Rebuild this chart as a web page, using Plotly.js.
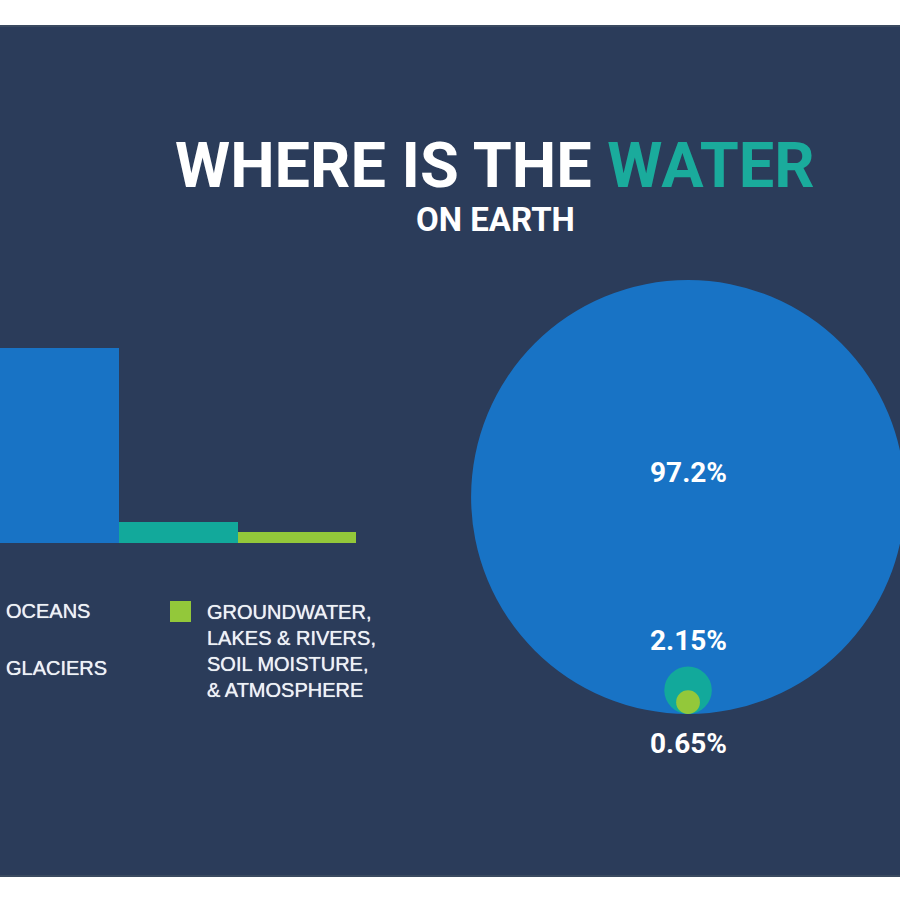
<!DOCTYPE html>
<html>
<head>
<meta charset="utf-8">
<script src="https://cdn.plot.ly/plotly-3.0.1.min.js"></script>
<style>html,body{margin:0;padding:0;background:#fff;}#chart{width:900px;height:900px;}</style>
</head>
<body>
<div id="chart"></div>
<script>
// ---- data ----
const categories = ['Oceans', 'Glaciers', 'Groundwater, lakes & rivers, soil moisture, & atmosphere'];
const shares = [97.2, 2.15, 0.65];
const valueLabels = ['97.2%', '2.15%', '0.65%'];
const legendLabels = ['OCEANS', 'GLACIERS', 'GROUNDWATER,<br>LAKES & RIVERS,<br>SOIL MOISTURE,<br>& ATMOSPHERE'];
const colors = ['#1873c5', '#12a99b', '#93c83a'];

// ---- styling ----
const BG = '#2b3c5a';
const TEXT = '#eef2f6';
const FONT = 'Roboto, "Open Sans", sans-serif';
const LEGFONT = '"Liberation Sans", Arial, sans-serif';
const LEGSHADOW = '0px 0px 0.7px #eef2f6';
const EXP = 0.58; // non-linear display scale used by the infographic
const scaled = shares.map(v => Math.pow(v, EXP));

const barTrace = {
  type: 'bar',
  x: categories,
  y: scaled,
  customdata: shares,
  marker: {color: colors, line: {width: 0}},
  width: 1,
  hovertemplate: '%{x}: %{customdata}%<extra></extra>',
  xaxis: 'x', yaxis: 'y'
};

// nested circles, bottom aligned, in x2/y2 units
const shapes = [];
shapes.push({type: 'rect', xref: 'paper', yref: 'paper', x0: 0, x1: 1, y0: 0, y1: 1, fillcolor: BG, line: {width: 0}, layer: 'below'});
scaled.forEach((r, i) => {
  shapes.push({type: 'circle', xref: 'x2', yref: 'y2', x0: -r, x1: r, y0: 0, y1: 2 * r,
    fillcolor: colors[i], line: {width: 0}, layer: 'above'});
});
// legend square for the third category
shapes.push({type: 'rect', xref: 'paper', yref: 'paper', x0: 170/900, x1: 191/900, y0: 1 - 622/900, y1: 1 - 601/900,
  fillcolor: colors[2], line: {width: 0}});
// white frame bands
shapes.push({type: 'rect', xref: 'paper', yref: 'paper', x0: 0, x1: 1, y0: 1 - 25/900, y1: 1, fillcolor: '#ffffff', line: {width: 0}, layer: 'above'});
shapes.push({type: 'rect', xref: 'paper', yref: 'paper', x0: 0, x1: 1, y0: 0, y1: 1 - 877/900, fillcolor: '#ffffff', line: {width: 0}, layer: 'above'});
shapes.push({type: 'line', xref: 'paper', yref: 'paper', x0: 0, x1: 1, y0: 1 - 26/900, y1: 1 - 26/900, line: {color: '#3a4a60', width: 2}, layer: 'above'});
shapes.push({type: 'line', xref: 'paper', yref: 'paper', x0: 0, x1: 1, y0: 1 - 876/900, y1: 1 - 876/900, line: {color: '#3a4a60', width: 2}, layer: 'above'});

const annotations = [
  {xref: 'paper', yref: 'paper', x: 495/900, y: 1 - 166/900, xanchor: 'center', yanchor: 'middle', showarrow: false,
   text: 'WHERE IS THE <span style="color:#1aab9c">WATER</span>',
   font: {family: FONT, size: 63, color: '#ffffff', weight: 'bold'}},
  {xref: 'paper', yref: 'paper', x: 495/900, y: 1 - 219/900, xanchor: 'center', yanchor: 'middle', showarrow: false,
   text: 'ON EARTH', font: {family: FONT, size: 33, color: '#ffffff', weight: 'bold'}},
  {xref: 'paper', yref: 'paper', x: 4/900, y: 1 - 611/900, xanchor: 'left', yanchor: 'middle', showarrow: false,
   text: legendLabels[0], font: {family: LEGFONT, size: 20, color: TEXT, shadow: LEGSHADOW}},
  {xref: 'paper', yref: 'paper', x: 4/900, y: 1 - 668/900, xanchor: 'left', yanchor: 'middle', showarrow: false,
   text: legendLabels[1], font: {family: LEGFONT, size: 20, color: TEXT, shadow: LEGSHADOW}},
  {xref: 'paper', yref: 'paper', x: 205/900, y: 1 - 651/900, xanchor: 'left', yanchor: 'middle', align: 'left', showarrow: false,
   text: legendLabels[2], font: {family: LEGFONT, size: 20, color: TEXT, shadow: LEGSHADOW}},
  // circle value labels
  {xref: 'x2', yref: 'y2', x: 0, y: scaled[0], yshift: 25, xanchor: 'center', yanchor: 'middle', showarrow: false,
   text: valueLabels[0], font: {family: FONT, size: 28, color: '#ffffff', weight: 'bold'}},
  {xref: 'x2', yref: 'y2', x: 0, y: 2 * scaled[1], yshift: 7, xanchor: 'center', yanchor: 'bottom', showarrow: false,
   text: valueLabels[1], font: {family: FONT, size: 28, color: '#ffffff', weight: 'bold'}},
  {xref: 'x2', yref: 'y2', x: 0, y: 0, yshift: -11, xanchor: 'center', yanchor: 'top', showarrow: false,
   text: valueLabels[2], font: {family: FONT, size: 28, color: '#ffffff', weight: 'bold'}}
];

const hidden = {visible: false, showgrid: false, zeroline: false, fixedrange: true};

const layout = {
  width: 900, height: 900,
  margin: {l: 0, r: 0, t: 0, b: 0},
  paper_bgcolor: BG,
  plot_bgcolor: 'rgba(0,0,0,0)',
  showlegend: false,
  bargap: 0,
  xaxis: Object.assign({}, hidden, {domain: [0, 0.396], range: [-0.5, 2.5], type: 'category'}),
  yaxis: Object.assign({}, hidden, {domain: [1 - 543/900, 0.6405], range: [0, 16]}),
  xaxis2: Object.assign({}, hidden, {domain: [0.5, 1], range: [-15.6, 13.89], anchor: 'y2'}),
  yaxis2: Object.assign({}, hidden, {domain: [0.1, 0.9], range: [-6.29, 40.89], anchor: 'x2'}),
  shapes: shapes,
  annotations: annotations
};

// invisible anchor trace so the x2/y2 subplot exists
const circleAnchor = {type: 'scatter', x: [0], y: [0], mode: 'markers', marker: {opacity: 0}, hoverinfo: 'skip', xaxis: 'x2', yaxis: 'y2'};

Plotly.newPlot('chart', [barTrace, circleAnchor], layout, {displayModeBar: false, staticPlot: true});
</script>
</body>
</html>
